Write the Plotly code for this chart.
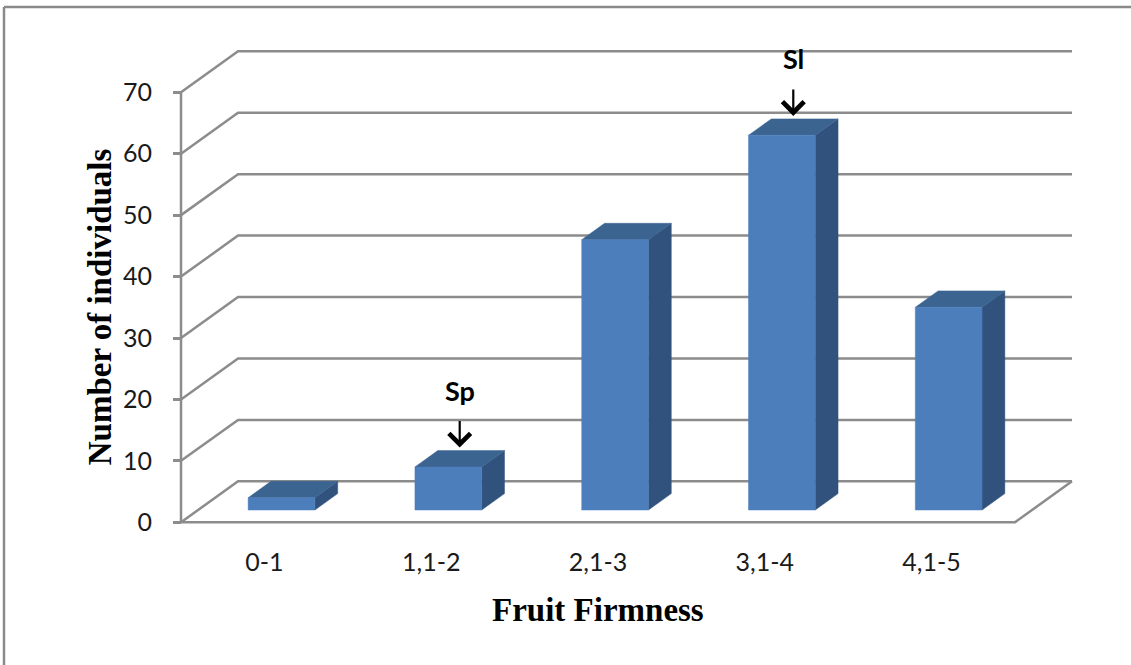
import plotly.graph_objects as go

# Fruit firmness classes and number of individuals in each class
categories = ["0-1", "1,1-2", "2,1-3", "3,1-4", "4,1-5"]
counts = [2, 7, 44, 61, 33]
y_ticks = [0, 10, 20, 30, 40, 50, 60, 70]
markers = {1: "Sp", 3: "Sl"}  # category index -> parent label

# Oblique projection of the depth axis (category units, value units)
DX, DY = 0.342, 6.67
BAR_W = 0.4          # bar width as fraction of a category
D_FRONT, D_BACK = 0.3, 0.7   # bar depth span as fraction of full depth

X_RANGE = [-0.102, 5.45]
Y_RANGE = [-2.07, 78.51]
M = dict(l=164, r=41, t=40, b=130)
W, H = 1131, 665

GRID = "#8c8c8c"
FRONT, TOP, SIDE = "#4C7EBC", "#3C6491", "#30527D"

n = len(categories)
fig = go.Figure()


def proj(x, v, d):
    return x + d * DX, v + d * DY


# Walls: each gridline runs from the front axis back to the wall, then across
gx, gy = [], []
for v in y_ticks:
    for x, d in [(0, 0), (0, 1), (n, 1)]:
        px, py = proj(x, v, d)
        gx.append(px)
        gy.append(py)
    gx.append(None)
    gy.append(None)
# floor front and right edges
for (x, d) in [(0, 0), (n, 0), (n, 1)]:
    px, py = proj(x, 0, d)
    gx.append(px)
    gy.append(py)
gx.append(None)
gy.append(None)
# front value axis
gx += [0, 0]
gy += [0, max(y_ticks)]
fig.add_trace(go.Scatter(x=gx, y=gy, mode="lines",
                         line=dict(color=GRID, width=2.5),
                         hoverinfo="skip", showlegend=False))

# 3D-looking bars: front, top and side faces
faces = {"front": ([], []), "top": ([], []), "side": ([], [])}
for i, v in enumerate(counts):
    x0 = i + 0.5 - BAR_W / 2
    x1 = i + 0.5 + BAR_W / 2
    front = [proj(x0, 0, D_FRONT), proj(x1, 0, D_FRONT),
             proj(x1, v, D_FRONT), proj(x0, v, D_FRONT)]
    top = [proj(x0, v, D_FRONT), proj(x1, v, D_FRONT),
           proj(x1, v, D_BACK), proj(x0, v, D_BACK)]
    side = [proj(x1, 0, D_FRONT), proj(x1, 0, D_BACK),
            proj(x1, v, D_BACK), proj(x1, v, D_FRONT)]
    for key, poly in (("front", front), ("top", top), ("side", side)):
        xs, ys = faces[key]
        xs += [p[0] for p in poly] + [poly[0][0], None]
        ys += [p[1] for p in poly] + [poly[0][1], None]

for key, col in (("side", SIDE), ("top", TOP), ("front", FRONT)):
    xs, ys = faces[key]
    fig.add_trace(go.Scatter(x=xs, y=ys, mode="lines", fill="toself",
                             fillcolor=col, line=dict(color=col, width=0.5),
                             hoverinfo="skip", showlegend=False))

# Parent markers with arrows above the bars
for i, label in markers.items():
    ax_x, ax_y = proj(i + 0.5, counts[i], 0.5)
    tip_y = counts[i] + D_BACK * DY
    fig.add_annotation(x=ax_x, y=tip_y, xref="x", yref="y", text="",
                       showarrow=True, arrowhead=4, arrowsize=1.9,
                       arrowwidth=2.2, arrowcolor="#000000",
                       ax=0, ay=-31, standoff=3)
    fig.add_annotation(x=ax_x, y=tip_y, xref="x", yref="y",
                       text=f"<b>{label}</b>", showarrow=False,
                       yanchor="middle", yshift=60,
                       font=dict(family="Lato", size=27, color="#000000"))

# Axis titles
fig.add_annotation(x=n / 2, y=0, xref="x", yref="paper",
                   text="<b>Fruit Firmness</b>", showarrow=False,
                   yanchor="middle", yshift=-75,
                   font=dict(family="Liberation Serif", size=33, color="#000000"))
fig.add_annotation(x=0, y=max(y_ticks) / 2, xref="paper", yref="y",
                   text="<b>Number of individuals</b>", showarrow=False,
                   textangle=-90, xanchor="center", xshift=-64,
                   font=dict(family="Liberation Serif", size=33, color="#000000"))


# Outer frame (top and left edges)
def to_paper_x(px):
    return (px - M["l"]) / (W - M["l"] - M["r"])


def to_paper_y(py):
    return (H - M["b"] - py) / (H - M["t"] - M["b"])


frame = dict(color="#8a8a8a", width=2.5)
fig.add_shape(type="line", xref="paper", yref="paper",
              x0=to_paper_x(4), y0=to_paper_y(7), x1=to_paper_x(W + 5), y1=to_paper_y(7),
              line=frame)
fig.add_shape(type="line", xref="paper", yref="paper",
              x0=to_paper_x(4), y0=to_paper_y(7), x1=to_paper_x(4), y1=to_paper_y(H + 5),
              line=frame)

y_axis_pos = (0 - X_RANGE[0]) / (X_RANGE[1] - X_RANGE[0])

fig.update_layout(
    width=W, height=H,
    margin=M,
    paper_bgcolor="#ffffff",
    plot_bgcolor="#ffffff",
    showlegend=False,
    xaxis=dict(range=X_RANGE, tickvals=[i + 0.5 for i in range(n)],
               ticktext=categories, showgrid=False, zeroline=False,
               showline=False, ticks="outside", ticklen=5,
               tickcolor="rgba(0,0,0,0)",
               tickfont=dict(family="Lato", size=25, color="#1a1a1a")),
    yaxis=dict(range=Y_RANGE, tickvals=y_ticks, showgrid=False,
               zeroline=False, showline=False, anchor="free",
               position=y_axis_pos, ticks="outside", ticklen=8,
               tickwidth=2.5, tickcolor=GRID, ticklabelstandoff=16,
               tickfont=dict(family="Lato", size=25, color="#1a1a1a")),
)

fig.write_html("out.html")
